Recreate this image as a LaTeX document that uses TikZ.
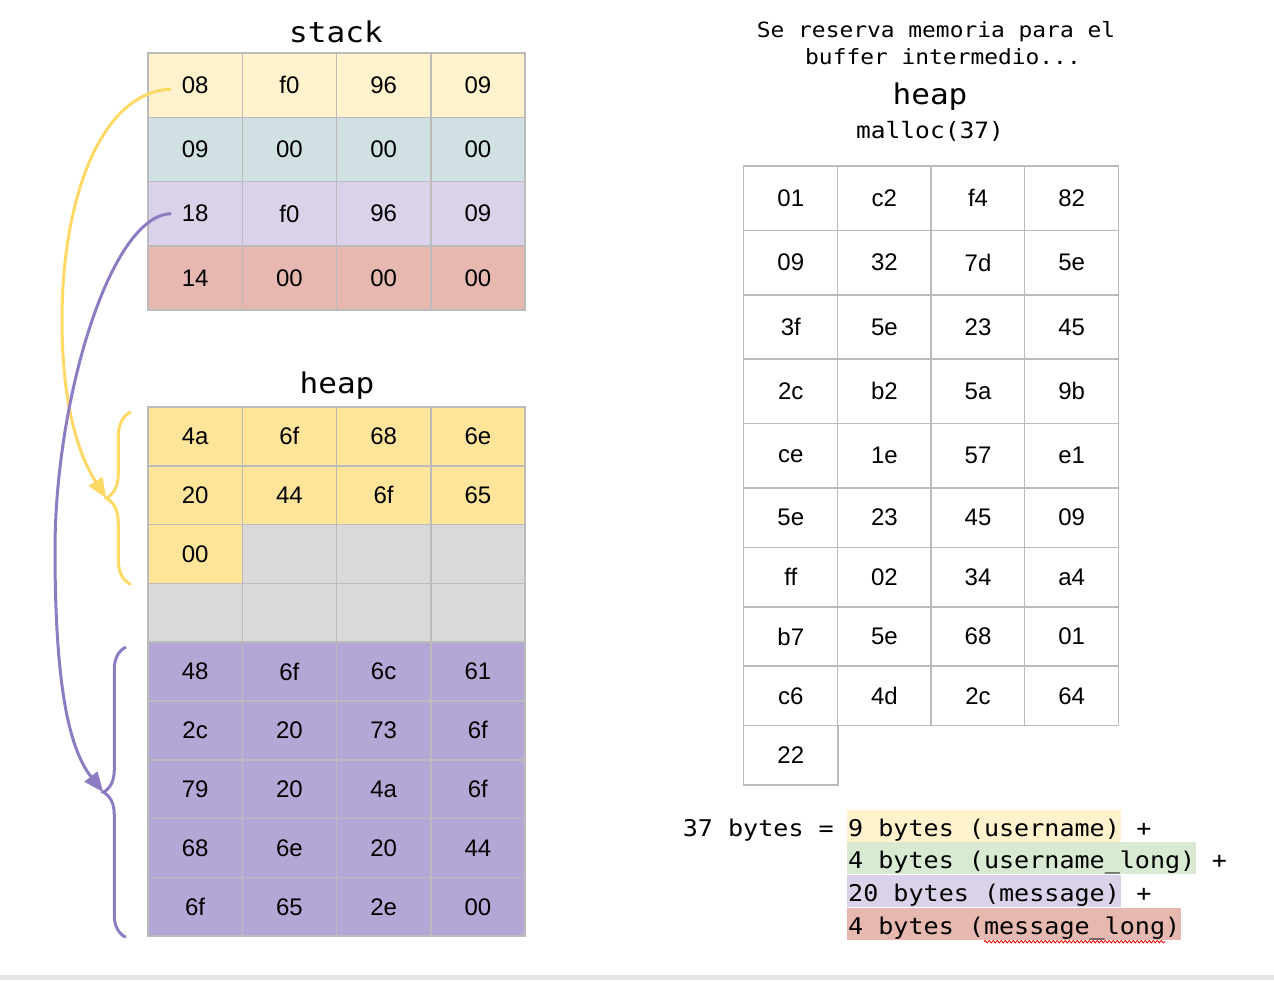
\documentclass[tikz,border=0pt]{standalone}
\usepackage{fontspec}
\setmainfont{Liberation Sans}
\newfontfamily\monofont[FakeStretch=1.09]{DejaVu Sans Mono}
\usetikzlibrary{arrows.meta,positioning,calc,decorations.pathreplacing,decorations.pathmorphing}

\definecolor{stkA}{HTML}{FFF2CC}
\definecolor{stkB}{HTML}{D0E0E3}
\definecolor{stkC}{HTML}{D9D2E9}
\definecolor{stkD}{HTML}{E6B8AF}
\definecolor{hpY}{HTML}{FFE599}
\definecolor{hpP}{HTML}{B4A7D6}
\definecolor{hpFree}{HTML}{D9D9D9}
\definecolor{hlG}{HTML}{D9EAD3}
\definecolor{gridc}{HTML}{BBBBBB}
\definecolor{ylw}{HTML}{FFD966}
\definecolor{prp}{HTML}{8E7CC3}

\begin{document}
\begin{tikzpicture}[
x=1pt, y=-1pt,
cell/.style={draw=gridc, line width=1.5pt, minimum width=94.25pt, minimum height=64.25pt, inner sep=0pt, font=\fontsize{24}{28}\selectfont},
heapcell/.style={cell, minimum height=58.8pt},
title/.style={font=\monofont\fontsize{28.5}{32}\selectfont, inner sep=0pt, anchor=base},
note/.style={font=\monofont\fontsize{21}{24}\selectfont, inner sep=0pt, anchor=base},
sum/.style={font=\monofont\fontsize{23}{26}\selectfont, inner sep=0pt, text height=26pt, text depth=6pt},
hl/.style={sum, inner xsep=1pt, anchor=base west},
brc/.style={decorate, line width=3pt, line cap=round},
link/.style={line width=3pt, -{Triangle[length=20pt, width=16pt]}},
spell/.style={draw=red, line width=0.8pt, decorate, decoration={snake, amplitude=1.2pt, segment length=4pt}}
]
\useasboundingbox (0,0) rectangle (1274,980);
\fill[gray!20] (0,975) rectangle (1274,980);

% Stack
\node[title] (stackT) at (336,42) {stack};
\foreach \r/\clr/\vals in {1/stkA/{08,f0,96,09}, 2/stkB/{09,00,00,00}, 3/stkC/{18,f0,96,09}, 4/stkD/{14,00,00,00}} {
  \foreach \v [count=\c] in \vals {
    \node[cell, fill=\clr] (s-\r-\c) at ({148+94.25*(\c-0.5)}, {53+64.25*(\r-0.5)}) {\v};
  }
}

% Heap - strings copied
\node[title] (heapT) at (337,393) {heap};
\foreach \r in {3,4} {
  \foreach \c in {1,...,4} {
    \node[heapcell, fill=hpFree] (h-\r-\c) at ({148+94.25*(\c-0.5)}, {407+58.8*(\r-0.5)}) {};
  }
}
\foreach \r/\clr/\vals in {1/hpY/{4a,6f,68,6e}, 2/hpY/{20,44,6f,65}, 3/hpY/{00}, 5/hpP/{48,6f,6c,61}, 6/hpP/{2c,20,73,6f}, 7/hpP/{79,20,4a,6f}, 8/hpP/{68,6e,20,44}, 9/hpP/{6f,65,2e,00}} {
  \foreach \v [count=\c] in \vals {
    \node[heapcell, fill=\clr] (h-\r-\c) at ({148+94.25*(\c-0.5)}, {407+58.8*(\r-0.5)}) {\v};
  }
}

% Braces
\coordinate (ybot) at ([xshift=-17pt]h-3-1.south west);
\coordinate (ytop) at ([xshift=-17pt, yshift=-6pt]h-1-1.north west);
\draw[brc, ylw, decoration={brace, amplitude=24pt}] (ybot) -- (ytop);
\coordinate (ytip) at ([xshift=-24pt]$(ybot)!0.5!(ytop)$);
\coordinate (pbot) at ([xshift=-22pt]h-9-1.south west);
\coordinate (ptop) at ([xshift=-22pt, yshift=-6pt]h-5-1.north west);
\draw[brc, prp, decoration={brace, amplitude=22pt}] (pbot) -- (ptop);
\coordinate (ptip) at ([xshift=-22pt]$(pbot)!0.5!(ptop)$);

% Pointers
\coordinate (ystart) at ([xshift=24pt, yshift=-4pt]s-1-1.west);
\coordinate (pstart) at ([xshift=24pt]s-3-1.west);
\draw[link, ylw] (ystart) .. controls (100,92) and (62,200) .. (62,320) .. controls (62,420) and (85,465) .. (ytip);
\draw[link, prp] (pstart) .. controls (110,215) and (55,400) .. (55,550) .. controls (55,690) and (70,750) .. (ptip);

% Heap - malloc(37)
\node[note] (intro1) at (936,37) {Se reserva memoria para el};
\node[note] (intro2) at (943,64) {buffer intermedio...};
\node[title] (heapR) at (930,104) {heap};
\node[note, font=\monofont\fontsize{22.5}{26}\selectfont] (malloc) at (930,138) {malloc(37)};
\foreach \r/\vals in {1/{01,c2,f4,82}, 2/{09,32,7d,5e}, 3/{3f,5e,23,45}, 4/{2c,b2,5a,9b}, 5/{ce,1e,57,e1}, 6/{5e,23,45,09}, 7/{ff,02,34,a4}, 8/{b7,5e,68,01}, 9/{c6,4d,2c,64}, 10/{22}} {
  \pgfmathsetmacro\yc{\r<6 ? 166+64.4*(\r-0.5) : 488+59.4*(\r-5.5)}
  \pgfmathsetmacro\hc{\r<6 ? 64.4 : 59.4}
  \foreach \v [count=\c] in \vals {
    \node[cell, fill=white, minimum height=\hc pt] (m-\r-\c) at ({744+93.6*(\c-0.5)}, \yc) {\v};
  }
}

% Sum
\node[hl, fill=stkA] (sum1) at (847,836) {9 bytes (username)};
\node[hl, fill=hlG] (sum2) at (847,868) {4 bytes (username\_long)};
\node[hl, fill=stkC] (sum3) at (847,901) {20 bytes (message)};
\node[hl, fill=stkD] (sum4) at (847,934) {4 bytes (message\_long)};
\node[sum, base left=13pt of sum1] (total) {37 bytes =};
\node[sum, base right=15pt of sum1] (plus1) {+};
\node[sum, base right=15pt of sum2] (plus2) {+};
\node[sum, base right=15pt of sum3] (plus3) {+};
\draw[spell] ([xshift=137pt, yshift=-1.5pt]sum4.south west) -- ([xshift=318pt, yshift=-1.5pt]sum4.south west);

\end{tikzpicture}
\end{document}
